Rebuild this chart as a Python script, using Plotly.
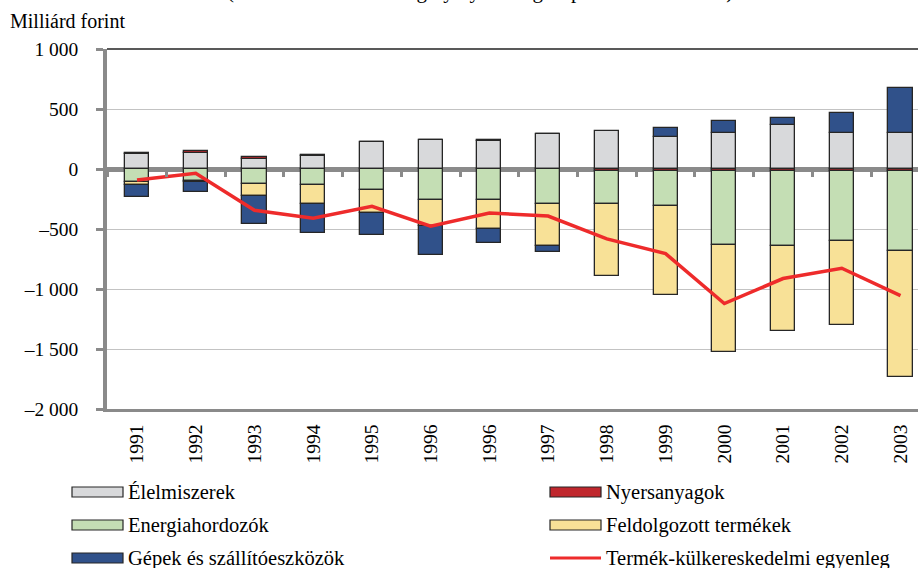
import plotly.graph_objects as go

# ---- data ----
years = ["1991", "1992", "1993", "1994", "1995", "1996", "1996", "1997",
         "1998", "1999", "2000", "2001", "2002", "2003"]
elelmiszerek = [122, 130, 86, 105, 222, 240, 235, 290, 313, 265, 298, 370, 300, 298]
nyersanyagok = [8, 18, 14, 8, 5, 5, 5, 4, -15, -15, -15, -20, -15, -15]
energiahordozok = [-105, -102, -122, -136, -174, -255, -255, -288, -273, -296, -617, -624, -584, -665]
feldolgozott = [-25, -4, -100, -158, -192, -222, -244, -356, -606, -738, -889, -702, -705, -1052]
gepek = [-102, -85, -233, -238, -183, -242, -120, -50, None, 75, 100, 56, 170, 376]
egyenleg = [-91, -35, -344, -411, -311, -477, -366, -392, -582, -705, -1121, -913, -827, -1055]

ytick_vals = [-2000, -1500, -1000, -500, 0, 500, 1000]
ytick_text = ["\u20132 000", "\u20131 500", "\u20131 000", "\u2013500", "0", "500", "1 000"]

series_names = ["Élelmiszerek", "Nyersanyagok", "Energiahordozók",
                "Feldolgozott termékek", "Gépek és szállítóeszközök"]
series_vals = [elelmiszerek, nyersanyagok, energiahordozok, feldolgozott, gepek]
series_colors = ["#d8d9db", "#c0272d", "#c4deb4", "#f8e197", "#30518a"]
line_name = "Termék-külkereskedelmi egyenleg"
line_color = "#ee2b2b"

FONT = "Liberation Serif, Times New Roman, serif"
FS = 20
EDGE = "#262626"
AXGREY = "#8a8a8a"

# layout geometry (pixels)
W, H = 918, 568
L, R, T, B = 107, 0, 49, 159
PW = W - L - R
PH = H - T - B

def pxx(x):
    return (x - L) / PW

def pxy(y):
    return (H - B - y) / PH

pos = list(range(len(years)))

fig = go.Figure()
for name, vals, col in zip(series_names, series_vals, series_colors):
    fig.add_trace(go.Bar(
        x=pos, y=vals, name=name, width=0.41,
        marker=dict(color=col, line=dict(color=EDGE, width=1.3)),
        showlegend=False,
    ))

fig.add_trace(go.Scatter(
    x=pos, y=egyenleg, name=line_name, mode="lines",
    line=dict(color=line_color, width=3.5), showlegend=False,
))

# invisible helper trace for the zero-line tick axis
fig.add_trace(go.Scatter(
    x=[pos[0]], y=[0], xaxis="x2", mode="markers",
    marker=dict(opacity=0), showlegend=False, hoverinfo="skip",
))

xr = [-0.511, 13.298]

fig.update_layout(
    width=W, height=H, autosize=False,
    margin=dict(l=L, r=R, t=T, b=B, pad=0),
    paper_bgcolor="white", plot_bgcolor="white",
    barmode="relative", bargap=0,
    font=dict(family=FONT, size=FS, color="black"),
    xaxis=dict(
        range=xr, tickmode="array", tickvals=pos, ticktext=years,
        tickangle=-90, ticks="", showgrid=False, zeroline=False,
        showline=True, linecolor=AXGREY, linewidth=2.5,
        tickfont=dict(family=FONT, size=19.5, color="black"),
        ticklabelstandoff=5,
    ),
    xaxis2=dict(
        range=xr, overlaying="x", anchor="free", position=2 / 3, side="bottom",
        tickmode="array", tickvals=[i + 0.5 for i in range(-1, len(years))],
        ticks="outside", ticklen=7, tickwidth=3, tickcolor=AXGREY,
        showticklabels=False, showgrid=False, zeroline=False, showline=False,
    ),
    yaxis=dict(
        range=[-2000, 1000], tickmode="array", tickvals=ytick_vals, ticktext=ytick_text,
        ticks="outside", ticklen=7, tickwidth=2.5, tickcolor=AXGREY,
        showline=True, linecolor=AXGREY, linewidth=3.5,
        showgrid=True, gridcolor="#c3c3c3", gridwidth=1,
        zeroline=True, zerolinecolor=AXGREY, zerolinewidth=4.5,
        tickfont=dict(family=FONT, size=19.5, color="black"),
        ticklabelstandoff=14,
    ),
)

shapes = []
# top border line at the top of the plot area
shapes.append(dict(type="line", xref="paper", yref="paper", x0=0, x1=1, y0=1, y1=1,
                   line=dict(color="#222222", width=1.6), layer="above"))

# custom legend (two columns, three rows)
leg_cols = [(72, 123, 126), (550, 601, 604)]
leg_rows = [492, 525, 558]
legend_items = [
    (series_names[0], series_colors[0], "bar"),
    (series_names[1], series_colors[1], "bar"),
    (series_names[2], series_colors[2], "bar"),
    (series_names[3], series_colors[3], "bar"),
    (series_names[4], series_colors[4], "bar"),
    (line_name, line_color, "line"),
]
annotations = []
for k, (name, col, kind) in enumerate(legend_items):
    cx0, cx1, tx = leg_cols[k % 2]
    cy = leg_rows[k // 2]
    if kind == "bar":
        shapes.append(dict(type="rect", xref="paper", yref="paper",
                           x0=pxx(cx0), x1=pxx(cx1), y0=pxy(cy + 5), y1=pxy(cy - 5),
                           fillcolor=col, line=dict(color=EDGE, width=1.2)))
    else:
        shapes.append(dict(type="line", xref="paper", yref="paper",
                           x0=pxx(cx0), x1=pxx(cx1), y0=pxy(cy), y1=pxy(cy),
                           line=dict(color=col, width=3)))
    annotations.append(dict(text=name, xref="paper", yref="paper",
                            x=pxx(tx), y=pxy(cy), xanchor="left", yanchor="middle",
                            showarrow=False, font=dict(family=FONT, size=20.5, color="black")))

# unit label
annotations.append(dict(text="Milliárd forint", xref="paper", yref="paper",
                        x=pxx(8), y=pxy(21), xanchor="left", yanchor="middle",
                        showarrow=False, font=dict(family=FONT, size=FS, color="black")))
# cut-off subtitle at the very top
annotations.append(dict(text="(External trade of Hungary by main groups of commodities)",
                        xref="paper", yref="paper",
                        x=pxx(480), y=pxy(-9), xanchor="center", yanchor="middle",
                        showarrow=False, font=dict(family=FONT, size=21, color="black")))

fig.update_layout(shapes=shapes, annotations=annotations)

fig.write_html(
    "out.html",
    config={"displayModeBar": False},
    post_script="document.body.style.margin='0';document.body.style.overflow='hidden';",
)
